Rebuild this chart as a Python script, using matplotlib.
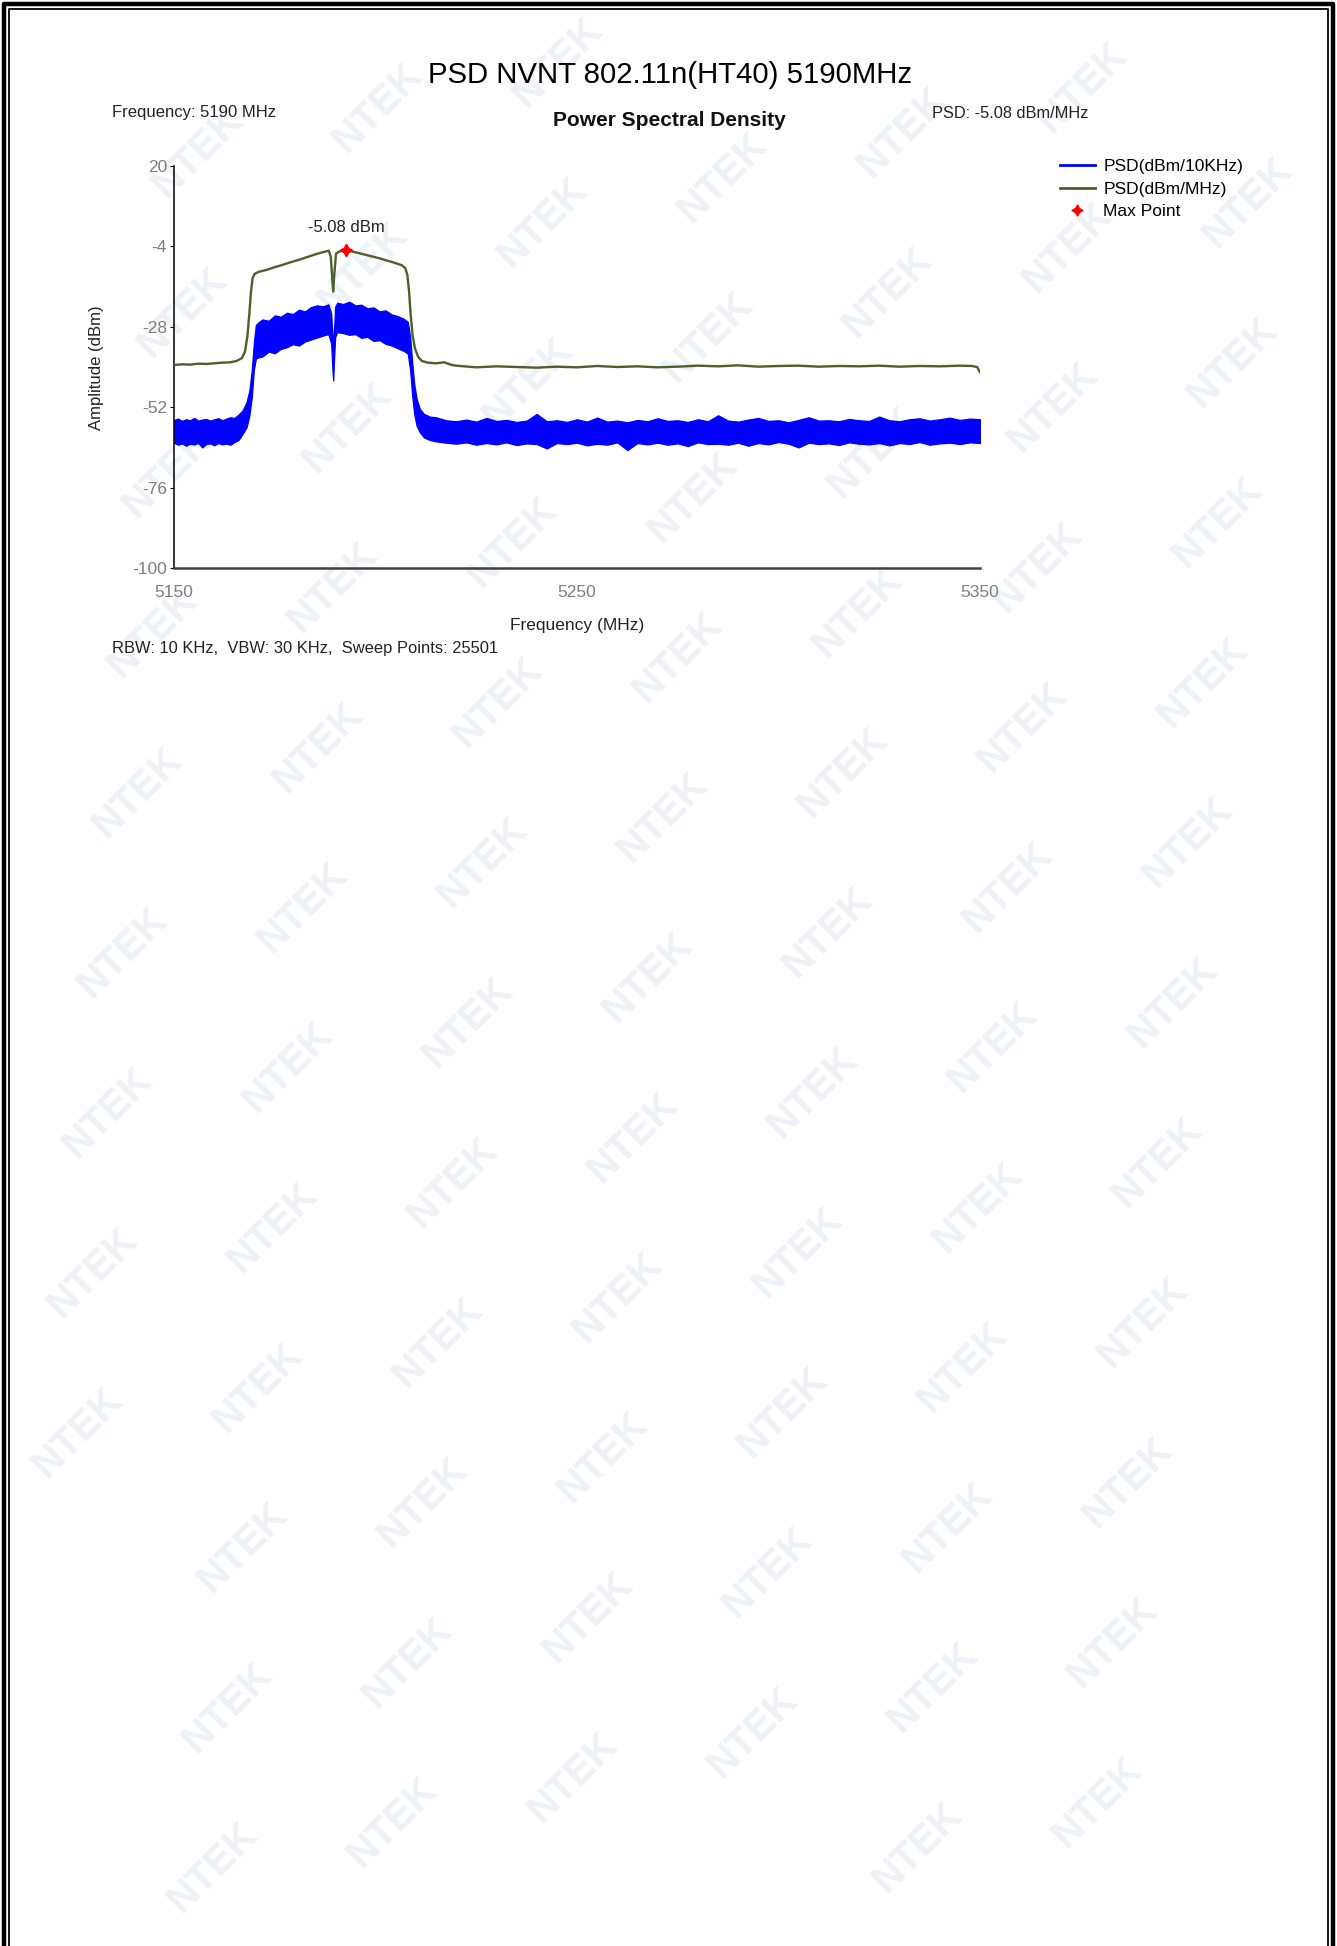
import matplotlib
matplotlib.use("Agg")
import matplotlib.pyplot as plt
from matplotlib.lines import Line2D

plt.rcParams['font.family'] = ['Liberation Sans', 'DejaVu Sans']
plt.rcParams['axes.unicode_minus'] = False

# PSD(dBm/MHz) trace
freq_mhz = [5150, 5152, 5154, 5156, 5158, 5160, 5162, 5164, 5165.5, 5166.8,
            5167.6, 5168.2, 5168.7, 5169.1, 5169.5, 5170.0, 5171, 5173, 5175, 5177,
            5179, 5181, 5183, 5185, 5187, 5188.4, 5188.9, 5189.2, 5189.5, 5189.8,
            5190.2, 5191, 5192.8, 5194.5, 5196.5, 5198.5, 5200.5, 5202.5, 5204.5, 5206.5,
            5207.4, 5207.9, 5208.3, 5208.7, 5209.2, 5209.8, 5210.6, 5211.5, 5213, 5215,
            5217, 5219, 5220, 5225, 5230, 5235, 5240, 5245, 5250, 5255,
            5260, 5265, 5270, 5275, 5280, 5285, 5290, 5295, 5300, 5305,
            5310, 5315, 5320, 5325, 5330, 5335, 5340, 5345, 5348, 5349.3, 5350]
psd_mhz = [-39.4, -39.2, -39.3, -39.0, -39.1, -38.9, -38.7, -38.6, -38.2, -37.4,
           -35.5, -31.0, -24.0, -17.5, -13.5, -12.2, -11.6, -11.0, -10.2, -9.5,
           -8.7, -8.0, -7.2, -6.4, -5.7, -5.3, -7.0, -12.5, -17.5, -12.0,
           -6.2, -5.5, -5.08, -5.6, -6.2, -6.8, -7.4, -8.1, -8.8, -9.6,
           -10.5, -12.5, -17.0, -24.0, -30.5, -34.5, -37.0, -38.2, -38.7, -38.9,
           -38.6, -39.4, -39.6, -40.1, -39.8, -40.0, -40.2, -39.9, -40.1, -39.7,
           -40.0, -39.8, -40.1, -39.9, -39.6, -39.8, -39.5, -39.9, -39.7, -39.6,
           -39.9, -39.7, -39.8, -39.6, -39.9, -39.7, -39.8, -39.6, -39.7, -40.0, -41.6]

# PSD(dBm/10KHz) trace: upper and lower edge of the noisy band
freq_10k = [5150, 5151, 5152, 5153, 5154, 5155, 5156, 5157, 5158, 5159,
            5160, 5161, 5162, 5163, 5164, 5165, 5166,
            5167, 5168, 5168.7, 5169.3, 5169.8, 5170.3, 5170.8,
            5172, 5173.5, 5175, 5176.5, 5178, 5179.5, 5181, 5182.5, 5184, 5185.5, 5187, 5188.3,
            5189.0, 5189.3, 5189.5, 5189.7, 5190.0,
            5190.5, 5192, 5193.5, 5195, 5196.5, 5198, 5199.5, 5201, 5202.5, 5204, 5205.5, 5207, 5208,
            5208.6, 5209.1, 5209.6, 5210.2, 5211, 5212, 5213.5,
            5215, 5217.5, 5220, 5222.5, 5225, 5227.5, 5230, 5232.5, 5235, 5237.5,
            5240, 5242.5, 5245, 5247.5, 5250, 5252.5, 5255, 5257.5, 5260, 5262.5,
            5265, 5267.5, 5270, 5272.5, 5275, 5277.5, 5280, 5282.5, 5285, 5287.5,
            5290, 5292.5, 5295, 5297.5, 5300, 5302.5, 5305, 5307.5, 5310, 5312.5,
            5315, 5317.5, 5320, 5322.5, 5325, 5327.5, 5330, 5332.5, 5335, 5337.5,
            5340, 5342.5, 5345, 5347.5, 5350]
psd_10k_hi = [-55.8, -55.4, -56.1, -55.6, -55.9, -55.2, -56.0, -55.7, -55.5, -56.0,
              -55.6, -55.3, -55.9, -55.4, -55.0, -55.2, -54.2,
              -53.0, -50.5, -47.0, -41.0, -33.0, -27.5, -26.8,
              -25.8, -26.2, -24.6, -25.0, -23.8, -24.2, -22.9, -23.4, -22.1, -21.6, -21.9, -21.3,
              -24.0, -30.0, -34.0, -29.0, -22.0,
              -20.8, -21.2, -20.5, -21.6, -21.4, -22.5, -22.2, -23.4, -23.1, -24.3, -24.8, -25.6, -26.5,
              -31.0, -38.5, -45.0, -49.5, -52.5, -54.0, -54.8,
              -55.0, -55.9, -56.2, -55.7, -56.3, -55.2, -56.1, -55.8, -56.4, -56.0,
              -54.0, -56.2, -55.9, -56.4, -55.6, -56.3, -55.1, -56.3, -56.0, -56.5,
              -55.8, -56.2, -55.3, -56.1, -55.9, -56.4, -55.6, -56.2, -54.4, -56.0,
              -56.3, -55.7, -55.2, -56.1, -55.9, -56.5, -55.8, -55.0, -56.0, -55.9,
              -56.2, -55.5, -55.9, -56.1, -54.8, -55.9, -56.2, -55.6, -55.3, -56.0,
              -55.6, -55.1, -55.8, -55.4, -55.6]
psd_10k_lo = [-62.6, -63.2, -62.8, -63.5, -62.9, -63.1, -62.7, -64.0, -63.0, -62.8,
              -63.4, -62.7, -63.1, -62.9, -63.2, -62.4, -61.8,
              -60.0, -58.0, -54.5, -49.0, -41.0, -37.5, -37.2,
              -36.8, -35.4, -35.9, -34.6, -34.1, -33.2, -33.6, -32.4, -31.8, -31.2, -30.6, -30.2,
              -33.0, -40.5, -44.0, -38.0, -31.0,
              -29.6, -29.9, -30.4, -30.2, -31.3, -31.0, -32.2, -32.0, -33.1, -33.6, -34.4, -35.2, -36.0,
              -41.0, -48.5, -54.0, -57.5, -59.5, -61.0, -61.8,
              -62.2, -62.6, -62.9, -62.5, -63.2, -62.7, -63.1, -62.5, -63.3, -62.8,
              -63.0, -64.3, -62.7, -63.0, -62.6, -63.4, -62.9, -63.2, -62.5, -64.8,
              -62.7, -63.1, -62.6, -63.2, -62.8, -63.6, -62.5, -63.0, -62.9, -63.2,
              -62.6, -63.5, -62.7, -63.1, -62.4, -62.9, -64.0, -62.6, -63.0, -62.8,
              -63.3, -62.5, -62.9, -63.1, -62.7, -63.4, -62.7, -63.0, -62.4, -63.2,
              -62.8, -62.6, -63.0, -62.5, -62.7]

max_freq = 5192.8
max_psd = -5.08
y_ticks = [20, -4, -28, -52, -76, -100]
x_ticks = [5150, 5250, 5350]

W, H = 1337, 1946
fig = plt.figure(figsize=(W / 100, H / 100), dpi=100)
fig.patch.set_facecolor('white')

# faint NTEK watermark behind everything, on a slanted lattice
for i in range(-8, 16):
    for j in range(-12, 18):
        px = 287 + i * 180 - j * 15
        py = 1067 - i * 45 + j * 160
        if 70 < px < W - 70 and 60 < py < H - 60:
            fig.text(px / W, 1 - py / H, "NTEK", rotation=45, fontsize=29,
                     fontweight='bold', color='#edf2f7', ha='center',
                     va='center', zorder=-1)

# page border (left, top, right)
for off, lw in [(4, 3.2), (9, 1.3)]:
    fig.add_artist(Line2D([off / W, off / W, (W - off - 0.5) / W, (W - off - 0.5) / W],
                          [0, 1 - off / H, 1 - off / H, 0],
                          color='black', lw=lw, transform=fig.transFigure))

ax = fig.add_axes([174 / W, 1 - 568 / H, (980 - 174) / W, (568 - 166) / H])
ax.patch.set_alpha(0)

ax.fill_between(freq_10k, psd_10k_lo, psd_10k_hi, color='#0000ff', lw=0.9,
                edgecolor='#0000ff', zorder=2)
ax.plot(freq_mhz, psd_mhz, color='#4e5e2c', lw=1.7, zorder=3)
ax.plot([max_freq], [max_psd], marker=(4, 1, 0), color='red', ms=9, ls='none', zorder=4)
ax.annotate(f"{max_psd:.2f} dBm", (max_freq, max_psd), xytext=(0, 16),
            textcoords='offset points', ha='center', va='center', fontsize=12,
            color='#222222')

ax.set_xlim(5150, 5350)
ax.set_ylim(-100, 20)
ax.set_xticks(x_ticks)
ax.set_yticks(y_ticks)
ax.tick_params(axis='x', length=0, pad=12, labelsize=12.5, labelcolor='#7f7f7f')
ax.tick_params(axis='y', length=3, width=0.8, pad=2, labelsize=12.5, labelcolor='#7f7f7f')
for s in ['top', 'right']:
    ax.spines[s].set_visible(False)
ax.spines['left'].set_color('black')
ax.spines['left'].set_linewidth(1.1)
ax.spines['bottom'].set_color('#404040')
ax.spines['bottom'].set_linewidth(1.8)

legend_handles = [Line2D([], [], color='#0000ff', lw=2),
                  Line2D([], [], color='#4e5e2c', lw=2),
                  Line2D([], [], marker=(4, 1, 0), color='red', ms=8, ls='none')]
ax.legend(legend_handles, ["PSD(dBm/10KHz)", "PSD(dBm/MHz)", "Max Point"],
          loc='upper left', bbox_to_anchor=(1060 / W, 1 - 159 / H),
          bbox_transform=fig.transFigure, frameon=False, fontsize=12.5,
          handlelength=2.0, handletextpad=0.5, labelspacing=0.42,
          borderpad=0, borderaxespad=0)

fig.text(670 / W, 1 - 75 / H, "PSD NVNT 802.11n(HT40) 5190MHz", ha='center',
         va='center', fontsize=21.2)
fig.text(112 / W, 1 - 113 / H, "Frequency: 5190 MHz", ha='left', va='center',
         fontsize=12, color='#222222')
fig.text(669 / W, 1 - 121 / H, "Power Spectral Density", ha='center', va='center',
         fontsize=15, fontweight='bold', color='#111111')
fig.text(932 / W, 1 - 113 / H, "PSD: -5.08 dBm/MHz", ha='left', va='center',
         fontsize=11.8, color='#222222')
fig.text(96 / W, 1 - 368 / H, "Amplitude (dBm)", ha='center', va='center',
         rotation=90, fontsize=12, color='#222222')
fig.text(577 / W, 1 - 625 / H, "Frequency (MHz)", ha='center', va='center',
         fontsize=12.5, color='#222222')
fig.text(112 / W, 1 - 649 / H, "RBW: 10 KHz,  VBW: 30 KHz,  Sweep Points: 25501",
         ha='left', va='center', fontsize=11.9, color='#222222')

fig.savefig("out.png", dpi=100, facecolor='white')
